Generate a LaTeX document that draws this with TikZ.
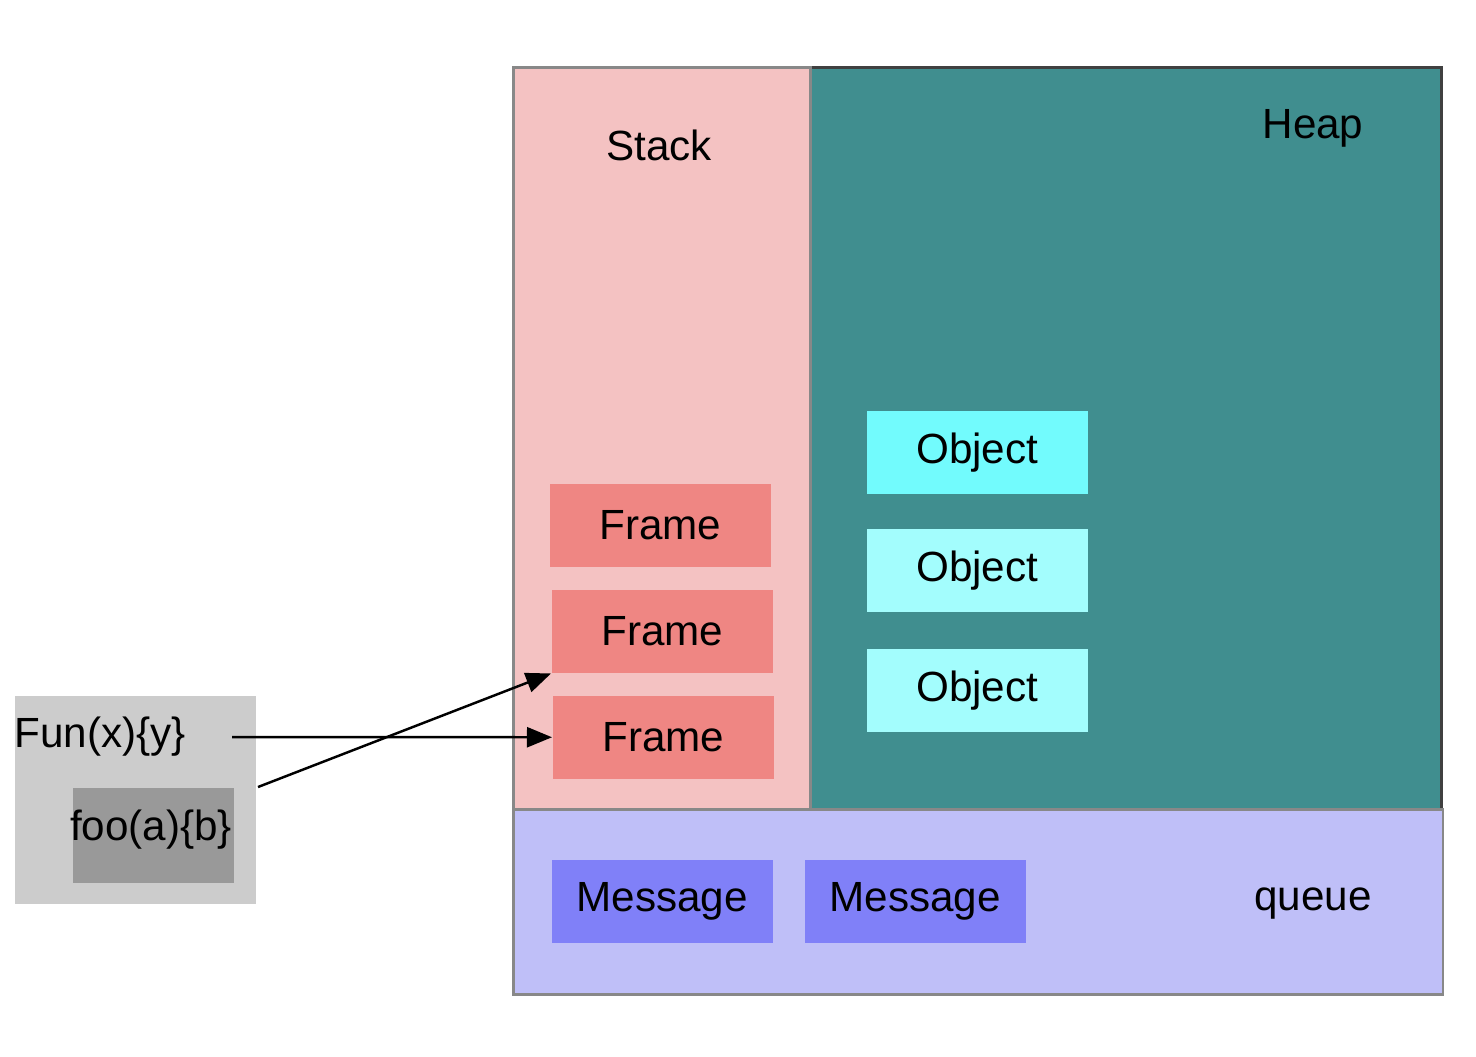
\documentclass[tikz,border=0pt]{standalone}
\usepackage{fontspec}
\setmainfont{Liberation Sans}
\usetikzlibrary{arrows.meta}

\definecolor{stackpink}{HTML}{F4C2C2}
\definecolor{heapteal}{HTML}{408E8F}
\definecolor{queueblue}{HTML}{BFBFF8}
\definecolor{framered}{HTML}{EF8683}
\definecolor{objcyan}{HTML}{72FBFD}
\definecolor{objpale}{HTML}{A3FDFD}
\definecolor{msgblue}{HTML}{8080F8}
\definecolor{areagray}{HTML}{888888}

\begin{document}
\begin{tikzpicture}[x=0.01cm,y=-0.01cm,
  font=\fontsize{12}{14}\selectfont,
  area/.style={draw=areagray,line width=0.8pt,anchor=north west,inner sep=0pt},
  cell/.style={anchor=north west,inner sep=0pt,minimum width=2.21cm,minimum height=0.83cm},
  link/.style={line width=0.7pt,-{Triangle[length=0.25cm,width=0.2cm]}}]

\useasboundingbox (0,0) rectangle (1476,1056);

\node[area,draw=black!75,fill=heapteal,minimum width=6.31cm,minimum height=7.42cm] (heap) at (809,66) {};
\node[area,fill=stackpink,minimum width=2.97cm,minimum height=7.42cm] (stack) at (512,66) {};
\node[area,fill=queueblue,minimum width=9.29cm,minimum height=1.85cm] (queue) at (512,808) {};

\node (stacklbl) at (659,145) {Stack};
\node (heaplbl) at (1313,128) {Heap};
\node (queuelbl) at (1313,903) {queue};

\node[cell,fill=framered] (frame1) at (549,483) {Frame};
\node[cell,fill=framered] (frame2) at (551,589) {Frame};
\node[cell,fill=framered] (frame3) at (552,695) {Frame};

\node[cell,fill=objcyan] (obj1) at (866,410) {Object};
\node[cell,fill=objpale] (obj2) at (866,528) {Object};
\node[cell,fill=objpale] (obj3) at (866,648) {Object};

\node[cell,fill=msgblue] (msg1) at (551,859) {Message};
\node[cell,fill=msgblue] (msg2) at (804,859) {Message};

\node[anchor=north west,inner sep=0pt,fill=black!20,minimum width=2.41cm,minimum height=2.08cm] (funbox) at (14,695) {};
\node[anchor=north west,inner sep=0pt,fill=black!40,minimum width=1.61cm,minimum height=0.95cm] (foobox) at (72,787) {};
\node[anchor=west,inner sep=0pt] (funlbl) at (14,737) {Fun(x)\{y\}};
\node (foolbl) at (151,830) {foo(a)\{b\}};

\coordinate (funout) at (232,737);
\coordinate (fooout) at (258,787);
\draw[link] (funout) -- (frame3.west);
\draw[link] (fooout) -- (frame2.south west);
\end{tikzpicture}
\end{document}
